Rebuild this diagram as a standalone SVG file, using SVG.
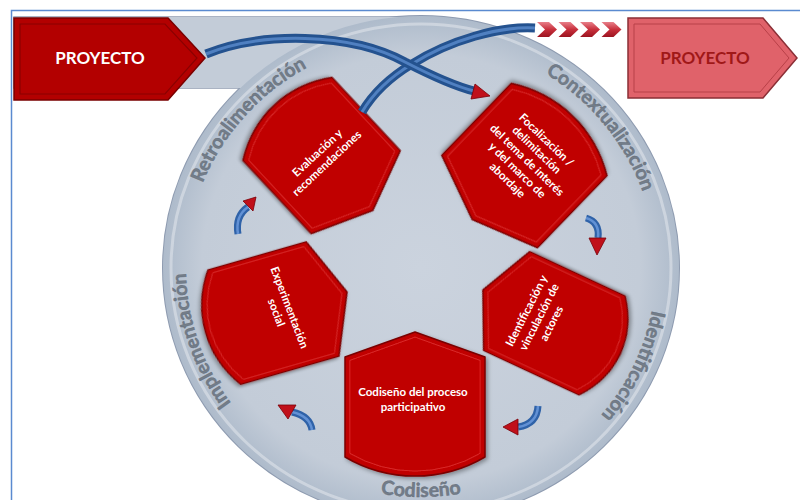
<svg xmlns="http://www.w3.org/2000/svg" width="800" height="500" viewBox="0 0 800 500">
<defs>
  <radialGradient id="ringG" cx="50%" cy="50%" r="50%">
    <stop offset="0" stop-color="#cbd3de"/>
    <stop offset="0.85" stop-color="#c3ccd8"/>
    <stop offset="1" stop-color="#aebbcb"/>
  </radialGradient>
  <linearGradient id="chevG" x1="0" y1="0" x2="0" y2="1">
    <stop offset="0" stop-color="#e8808a"/>
    <stop offset="0.5" stop-color="#c8303c"/>
    <stop offset="1" stop-color="#9c1420"/>
  </linearGradient>
  <filter id="sh" x="-20%" y="-20%" width="140%" height="140%">
    <feDropShadow dx="2" dy="2" stdDeviation="2" flood-color="#000" flood-opacity="0.35"/>
  </filter>
  <path id="tpl" d="M0,-73 L70,-48 L70,52 A138,138 0 0 1 -70,52 L-70,-48 Z"/>
  <path id="arcRetro" d="M188.9,303.8 A235,229 0 0 1 425.1,39.0"/>
  <path id="arcCont" d="M427.6,39.1 A235,229 0 0 1 651.2,314.1"/>
  <path id="arcIdent" d="M634.0,171.2 A235,229 0 0 1 481.8,489.2"/>
  <path id="arcImpl" d="M334.9,481.1 A235,229 0 0 1 220.6,148.3"/>
  <path id="arcCod" d="M241.0,415.2 A235,229 0 0 0 601.0,415.2"/>
</defs>
<style>
  .shape{fill:#c00000;stroke:#7a0000;stroke-width:1.5;stroke-linejoin:round;vector-effect:non-scaling-stroke}
  .inner{fill:none;stroke:#e23a3a;stroke-width:1;opacity:0.8;vector-effect:non-scaling-stroke}
  .nt{font-family:Lato,"Open Sans","Liberation Sans",sans-serif;font-weight:700;font-size:11.5px;fill:#ffffff;text-anchor:middle}
  .rl{font-family:Lato,"Open Sans","Liberation Sans",sans-serif;font-weight:700;font-size:19.5px;fill:#737d89;stroke:#5f6976;stroke-width:0.4;text-anchor:middle}
  .tube{fill:none;stroke:#24528f;stroke-width:9;stroke-linecap:butt}
  .tubeHi{fill:none;stroke:#5f90d2;stroke-width:3;opacity:0.75}
  .stube{fill:none;stroke:#2f62a8;stroke-width:7}
  .stubeHi{fill:none;stroke:#6f9ee0;stroke-width:2.5;opacity:0.8}
  .head{fill:#c0101a;stroke:#7a0008;stroke-width:0.8}
  .chev{fill:url(#chevG)}
</style>

<!-- outer frame -->
<rect x="11.5" y="10.5" width="800" height="500" fill="none" stroke="#5a8ad0" stroke-width="1.5"/>

<!-- background band and ring -->
<g id="ring">
  <rect x="14" y="17" width="420" height="71" fill="none" stroke="#8e9bb0" stroke-width="1.5"/>
  <ellipse cx="421" cy="268" rx="258" ry="252" fill="none" stroke="#8e9bb0" stroke-width="2"/>
  <rect x="14" y="17" width="420" height="71" fill="#c3ccd8"/>
  <ellipse cx="421" cy="268" rx="258" ry="252" fill="url(#ringG)"/>
  <ellipse cx="421" cy="268" rx="250" ry="244" fill="none" stroke="#ffffff" stroke-width="3" opacity="0.35"/>
</g>

<!-- ring labels -->
<g id="ring-labels">
  <text class="rl"><textPath href="#arcRetro" startOffset="50%">Retroalimentación</textPath></text>
  <text class="rl"><textPath href="#arcCont" startOffset="50%">Contextualización</textPath></text>
  <text class="rl"><textPath href="#arcIdent" startOffset="50%">Identificación</textPath></text>
  <text class="rl"><textPath href="#arcImpl" startOffset="50%">Implementación</textPath></text>
  <text class="rl"><textPath href="#arcCod" startOffset="50%">Codiseño</textPath></text>
</g>

<!-- nodes -->
<g id="node-evaluacion">
  <g transform="translate(323,157) rotate(137) scale(0.87,1)" filter="url(#sh)">
    <use href="#tpl" class="shape"/>
    <use href="#tpl" class="inner" transform="scale(0.93)"/>
  </g>
  <text class="nt" transform="translate(322,158) rotate(-43)"><tspan x="0" y="-3">Evaluación y</tspan><tspan x="0" y="11">recomendaciones</tspan></text>
</g>

<g id="node-focalizacion">
  <g transform="translate(523,167) rotate(-136) scale(0.95,1)" filter="url(#sh)">
    <use href="#tpl" class="shape"/>
    <use href="#tpl" class="inner" transform="scale(0.93)"/>
  </g>
  <text class="nt" transform="translate(527,160) rotate(44)"><tspan x="0" y="-24">Focalización /</tspan><tspan x="0" y="-10">delimitación</tspan><tspan x="0" y="4">del tema de interés</tspan><tspan x="0" y="18">y del marco de</tspan><tspan x="0" y="32">abordaje</tspan></text>
</g>

<g id="node-identificacion">
  <g transform="translate(552.5,322.4) rotate(-65) scale(0.78,1.05)" filter="url(#sh)">
    <use href="#tpl" class="shape"/>
    <use href="#tpl" class="inner" transform="scale(0.93)"/>
  </g>
  <text class="nt" transform="translate(539,317) rotate(-63)"><tspan x="0" y="-10">Identificación y</tspan><tspan x="0" y="4">vinculación de</tspan><tspan x="0" y="18">actores</tspan></text>
</g>

<g id="node-codiseno">
  <g transform="translate(415,405)" filter="url(#sh)">
    <use href="#tpl" class="shape"/>
    <use href="#tpl" class="inner" transform="scale(0.93)"/>
  </g>
  <text class="nt"><tspan x="413" y="396">Codiseño del proceso</tspan><tspan x="413" y="411">participativo</tspan></text>
</g>

<g id="node-experimentacion">
  <g transform="translate(275.4,312.5) rotate(74) scale(0.85,1.02)" filter="url(#sh)">
    <use href="#tpl" class="shape"/>
    <use href="#tpl" class="inner" transform="scale(0.93)"/>
  </g>
  <text class="nt" transform="translate(283,310) rotate(69)"><tspan x="0" y="-3">Experimentación</tspan><tspan x="0" y="11">social</tspan></text>
</g>

<g id="node-proyecto-in">
  <polygon points="14,18 168,18 205,58 168,100 14,100" fill="#b30000" stroke="#7a0000" stroke-width="1.5"/>
  <polygon points="20,24 165,24 197,58 165,94 20,94" fill="none" stroke="#8a0000" stroke-width="1.2"/>
  <text x="100" y="64" font-family="Lato,'Open Sans','Liberation Sans',sans-serif" font-weight="700" font-size="17" fill="#ffffff" text-anchor="middle">PROYECTO</text>
</g>

<g id="node-proyecto-out">
  <polygon points="628,18 763,18 797,58 763,98 628,98" fill="#e0626a" stroke="#8b2f36" stroke-width="1.5"/>
  <polygon points="634,24 760,24 789,58 760,92 634,92" fill="none" stroke="#b84048" stroke-width="1"/>
  <text x="705" y="64" font-family="Lato,'Open Sans','Liberation Sans',sans-serif" font-weight="700" font-size="17" fill="#a01818" text-anchor="middle">PROYECTO</text>
</g>

<!-- connectors -->
<g id="connectors">
  <path class="tube" d="M362,112 C375,90 392,76 412,64 C450,40 500,26 535,28"/>
  <path class="tubeHi" d="M362,112 C375,90 392,76 412,64 C450,40 500,26 535,28"/>
  <path class="tube" d="M206,54 C260,32 350,32 405,62 C440,80 458,87 474,91"/>
  <path class="tubeHi" d="M206,54 C260,32 350,32 405,62 C440,80 458,87 474,91"/>
  <polygon class="head" points="475,84 490,96 471,99"/>

  <g id="chevrons">
    <polygon class="chev" points="537,22 549,22 557,29.5 549,37 537,37 545,29.5"/>
    <polygon class="chev" points="558.5,22 570.5,22 578.5,29.5 570.5,37 558.5,37 566.5,29.5"/>
    <polygon class="chev" points="580,22 592,22 600,29.5 592,37 580,37 588,29.5"/>
    <polygon class="chev" points="601.5,22 613.5,22 621.5,29.5 613.5,37 601.5,37 609.5,29.5"/>
  </g>

  <!-- Experimentacion -> Evaluacion -->
  <path class="stube" d="M238,234 Q235,216 248,207"/>
  <path class="stubeHi" d="M238,234 Q235,216 248,207"/>
  <polygon class="head" points="243,201 256,197 253,211"/>
  <!-- Focalizacion -> Identificacion -->
  <path class="stube" d="M586,218 Q600,222 598,238"/>
  <path class="stubeHi" d="M586,218 Q600,222 598,238"/>
  <polygon class="head" points="589,238 606,238 597,255"/>
  <!-- Identificacion -> Codiseno -->
  <path class="stube" d="M538,406 Q537,424 518,427"/>
  <path class="stubeHi" d="M538,406 Q537,424 518,427"/>
  <polygon class="head" points="518,419 518,435 503,427"/>
  <!-- Codiseno -> Experimentacion -->
  <path class="stube" d="M312,430 Q310,416 292,412"/>
  <path class="stubeHi" d="M312,430 Q310,416 292,412"/>
  <polygon class="head" points="296,405 288,419 278,405"/>
</g>
</svg>
